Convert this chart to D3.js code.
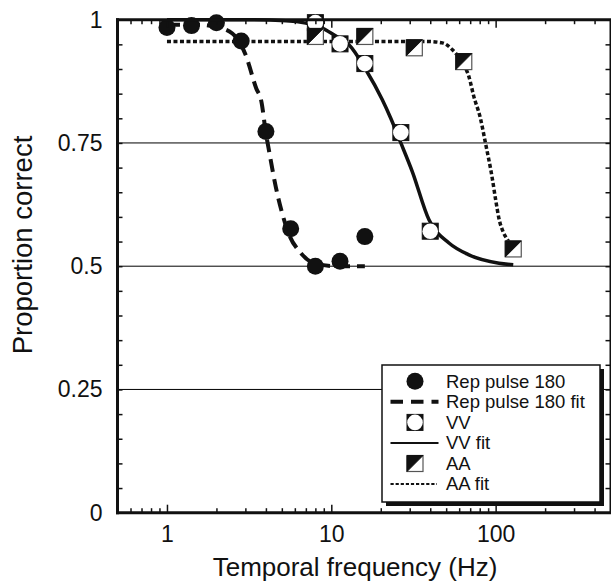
<!DOCTYPE html>
<html>
<head>
<meta charset="utf-8">
<script src="https://cdn.jsdelivr.net/npm/d3@7"></script>
<style>
  body { margin: 0; background: #fff; }
  text { font-family: "Liberation Sans", Arial, Helvetica, sans-serif; fill: #111; }
</style>
</head>
<body>
<div class="chart"></div>
<script>
//data
const repFreq = [1, 1.41, 2, 2.83, 4, 5.66, 8, 11.3, 16];
const repProp = [0.984, 0.988, 0.994, 0.957, 0.773, 0.576, 0.50, 0.51, 0.56];

const vvFreq = [8, 11.3, 16, 26.5, 40];
const vvProp = [0.994, 0.951, 0.911, 0.771, 0.571];

const aaFreq = [8, 16, 32, 64, 128];
const aaProp = [0.966, 0.966, 0.943, 0.915, 0.535];

//fit curves
const repFitFreq = [1, 1.5, 2, 2.5, 3, 3.5, 3.75, 4, 4.2, 4.6, 5, 5.6, 6.4, 8, 11, 16];
const repFitProp = [0.99, 0.99, 0.985, 0.972, 0.93, 0.86, 0.835, 0.77, 0.73, 0.66, 0.61, 0.56, 0.53, 0.505, 0.5, 0.5];

const vvFitFreq = [1, 3, 5.3, 7, 8.8, 11.1, 12.8, 16.2, 20.4, 23, 26.5, 31.1, 39.3, 52, 68.8, 105, 128];
const vvFitProp = [1.0, 1.0, 0.998, 0.993, 0.983, 0.963, 0.949, 0.899, 0.838, 0.80, 0.75, 0.692, 0.594, 0.547, 0.523, 0.506, 0.503];

const aaFitFreq = [1, 5, 10, 20, 37.5, 47.4, 54.6, 62.9, 68.7, 73.7, 80.8, 86.7, 95.2, 100, 104.7, 112, 118, 128];
const aaFitProp = [0.956, 0.956, 0.956, 0.956, 0.956, 0.953, 0.939, 0.912, 0.885, 0.844, 0.80, 0.75, 0.68, 0.635, 0.597, 0.567, 0.554, 0.535];

//tick labels
const xTickLabels = [1, 10, 100];
const yTickLabels = [0, 0.25, 0.5, 0.75, 1];
const gridValues = [0.25, 0.5, 0.75];

const legendLabels = ['Rep pulse 180', 'Rep pulse 180 fit', 'VV', 'VV fit', 'AA', 'AA fit'];

//zip two arrays into points
function zip(xs, ys){
    return xs.map((d, i) => ({f: d, p: ys[i]}));
}

const width = 611, height = 581;
const margin = {top: 19.7, right: 0.5, bottom: 68.3, left: 117.5};

const xScale = d3.scaleLog()
    .domain([0.5, 500])
    .range([margin.left, width - margin.right]);

const yScale = d3.scaleLinear()
    .domain([0, 1])
    .range([height - margin.bottom, margin.top]);

const svg = d3.select('.chart')
    .append('svg')
    .attr('width', width)
    .attr('height', height);

svg.append('rect').attr('width', width).attr('height', height).attr('fill', '#fff');

const x0 = xScale.range()[0], x1 = xScale.range()[1];
const y0 = yScale.range()[0], y1 = yScale.range()[1];

//horizontal reference lines
svg.append('g')
    .selectAll('line')
    .data(gridValues)
    .enter()
    .append('line')
    .attr('x1', x0).attr('x2', x1)
    .attr('y1', d => yScale(d)).attr('y2', d => yScale(d))
    .attr('stroke', '#000')
    .attr('stroke-width', 1);

//fit lines
const line = d3.line()
    .x(d => xScale(d.f))
    .y(d => yScale(d.p))
    .curve(d3.curveMonotoneX);

svg.append('path')
    .datum(zip(vvFitFreq, vvFitProp))
    .attr('d', line)
    .attr('fill', 'none')
    .attr('stroke', '#111')
    .attr('stroke-width', 3.5);

svg.append('path')
    .datum(zip(aaFitFreq, aaFitProp))
    .attr('d', line)
    .attr('fill', 'none')
    .attr('stroke', '#111')
    .attr('stroke-width', 3.5)
    .attr('stroke-dasharray', '4,2.5');

svg.append('path')
    .datum(zip(repFitFreq, repFitProp))
    .attr('d', line)
    .attr('fill', 'none')
    .attr('stroke', '#111')
    .attr('stroke-width', 4)
    .attr('stroke-dasharray', '13,7');

//marker drawers
function drawCircle(g, cx, cy){
    g.append('circle').attr('cx', cx).attr('cy', cy).attr('r', 8.5).attr('fill', '#111');
}
function drawVV(g, cx, cy){
    g.append('rect').attr('x', cx - 8).attr('y', cy - 8).attr('width', 16).attr('height', 16)
        .attr('fill', '#111').attr('stroke', '#111').attr('stroke-width', 1);
    g.append('circle').attr('cx', cx).attr('cy', cy).attr('r', 7.8).attr('fill', '#fff');
}
function drawAA(g, cx, cy){
    g.append('rect').attr('x', cx - 8).attr('y', cy - 8).attr('width', 16).attr('height', 16)
        .attr('fill', '#fff').attr('stroke', '#555').attr('stroke-width', 1.2);
    g.append('path')
        .attr('d', `M${cx - 8},${cy - 8}L${cx + 8},${cy - 8}L${cx - 8},${cy + 8}Z`)
        .attr('fill', '#111').attr('stroke', '#111').attr('stroke-width', 1);
}

const marks = svg.append('g').attr('class', 'marks');
zip(repFreq, repProp).forEach(d => drawCircle(marks, xScale(d.f), yScale(d.p)));
zip(vvFreq, vvProp).forEach(d => drawVV(marks, xScale(d.f), yScale(d.p)));
zip(aaFreq, aaProp).forEach(d => drawAA(marks, xScale(d.f), yScale(d.p)));

//axes ticks (inside the frame)
const xMinor = xScale.ticks().filter(d => xTickLabels.indexOf(d) < 0);
const yMinor = d3.range(0, 1.0001, 0.05).map(d => +d.toFixed(2));

function cleanAxis(g){
    g.select('.domain').remove();
    g.selectAll('.tick line').attr('stroke', '#111').attr('stroke-width', 1.5);
}

svg.append('g').attr('transform', `translate(0,${y0})`)
    .call(d3.axisBottom(xScale).tickValues(xMinor).tickSize(-4.5).tickFormat(''))
    .call(cleanAxis);
svg.append('g').attr('transform', `translate(0,${y1})`)
    .call(d3.axisTop(xScale).tickValues(xMinor).tickSize(-4.5).tickFormat(''))
    .call(cleanAxis);
svg.append('g').attr('transform', `translate(0,${y1})`)
    .call(d3.axisTop(xScale).tickValues(xTickLabels).tickSize(-8).tickFormat(''))
    .call(cleanAxis);

const xAxisDraw = svg.append('g').attr('transform', `translate(0,${y0})`)
    .call(d3.axisBottom(xScale).tickValues(xTickLabels).tickSize(-8).tickPadding(13).tickFormat(d3.format('d')))
    .call(cleanAxis);
xAxisDraw.selectAll('text').style('font-size', '23px').attr('fill', '#111');

svg.append('g').attr('transform', `translate(${x0},0)`)
    .call(d3.axisLeft(yScale).tickValues(yMinor).tickSize(-5).tickFormat(''))
    .call(cleanAxis);
svg.append('g').attr('transform', `translate(${x1},0)`)
    .call(d3.axisRight(yScale).tickValues(yMinor).tickSize(-5).tickFormat(''))
    .call(cleanAxis);

const yAxisDraw = svg.append('g').attr('transform', `translate(${x0},0)`)
    .call(d3.axisLeft(yScale).tickValues(yTickLabels).tickSize(0).tickPadding(15).tickFormat(d => String(d)))
    .call(cleanAxis);
yAxisDraw.selectAll('text').style('font-size', '23px').attr('fill', '#111');

//frame
svg.append('line').attr('x1', x0).attr('x2', x0).attr('y1', y1 - 1.5).attr('y2', y0 + 1.5)
    .attr('stroke', '#111').attr('stroke-width', 3);
svg.append('line').attr('x1', x0 - 1.5).attr('x2', x1 + 1).attr('y1', y0).attr('y2', y0)
    .attr('stroke', '#111').attr('stroke-width', 3);
svg.append('line').attr('x1', x0 - 1.5).attr('x2', x1 + 1).attr('y1', y1).attr('y2', y1)
    .attr('stroke', '#111').attr('stroke-width', 3);
svg.append('line').attr('x1', x1).attr('x2', x1).attr('y1', y1).attr('y2', y0)
    .attr('stroke', '#111').attr('stroke-width', 2);

//axis titles
svg.append('text')
    .attr('x', 355).attr('y', 576)
    .attr('text-anchor', 'middle')
    .style('font-size', '26px')
    .text('Temporal frequency (Hz)');

svg.append('text')
    .attr('transform', 'translate(32,245) rotate(-90)')
    .attr('text-anchor', 'middle')
    .style('font-size', '27.5px')
    .text('Proportion correct');

//legend
const legend = svg.append('g').attr('class', 'legend');
const lx = 382, ly = 365, lw = 218, lh = 137;
legend.append('rect').attr('x', lx + 4).attr('y', ly + 4).attr('width', lw).attr('height', lh).attr('fill', '#111');
legend.append('rect').attr('x', lx).attr('y', ly).attr('width', lw).attr('height', lh)
    .attr('fill', '#fff').attr('stroke', '#111').attr('stroke-width', 1.5);

const rowY = i => 381.3 + i * 20.55;
const markX = 415, lineX0 = 390.5, lineX1 = 438.5, textX = 446;

drawCircle(legend, markX, rowY(0));
legend.append('line').attr('x1', lineX0).attr('x2', lineX1).attr('y1', rowY(1)).attr('y2', rowY(1))
    .attr('stroke', '#111').attr('stroke-width', 4).attr('stroke-dasharray', '12.5,8');
drawVV(legend, markX, rowY(2));
legend.append('line').attr('x1', lineX0).attr('x2', lineX1).attr('y1', rowY(3)).attr('y2', rowY(3))
    .attr('stroke', '#111').attr('stroke-width', 2);
drawAA(legend, markX, rowY(4));
legend.append('line').attr('x1', lineX0).attr('x2', lineX1 - 1.5).attr('y1', rowY(5)).attr('y2', rowY(5))
    .attr('stroke', '#111').attr('stroke-width', 2).attr('stroke-dasharray', '3.2,1.9');

legend.selectAll('.legend-label')
    .data(legendLabels)
    .enter()
    .append('text')
    .attr('class', 'legend-label')
    .attr('x', textX)
    .attr('y', (d, i) => rowY(i) + 6.4)
    .style('font-size', '18.5px')
    .text(d => d);
</script>
</body>
</html>
